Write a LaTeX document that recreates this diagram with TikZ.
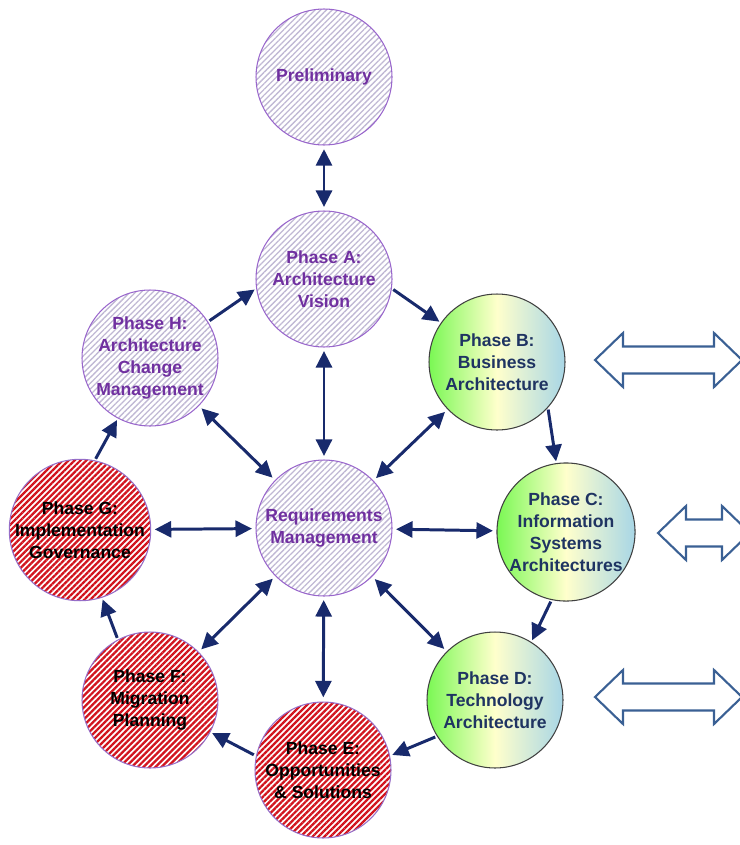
\documentclass[tikz,border=0pt]{standalone}
\usepackage{fontspec}
\setmainfont{Liberation Sans}
\usepackage{tikz}
\usetikzlibrary{arrows.meta,patterns.meta}

\definecolor{lilacline}{RGB}{153,102,204}
\definecolor{lilachatch}{RGB}{192,184,212}
\definecolor{lilactext}{RGB}{112,48,160}
\definecolor{redhatch}{RGB}{210,20,30}
\definecolor{redline}{RGB}{150,110,200}
\definecolor{leafgreen}{RGB}{122,248,84}
\definecolor{paleyellow}{RGB}{255,255,204}
\definecolor{paleblue}{RGB}{168,214,230}
\definecolor{navytext}{RGB}{31,52,98}
\definecolor{navyarrow}{RGB}{24,42,108}
\definecolor{steelblue}{RGB}{58,96,148}

\begin{document}
\begin{tikzpicture}[
  x=0.02cm, y=-0.02cm,
  phase/.style={circle, minimum size=2.72cm, inner sep=0pt, align=center,
    font=\fontsize{10}{12.5}\selectfont\bfseries},
  prep/.style={phase, draw=lilacline, line width=0.6pt, text=lilactext,
    pattern={Lines[angle=45, distance=2.3pt, line width=0.75pt]}, pattern color=lilachatch},
  adm/.style={phase, draw=darkgray, line width=0.6pt, text=navytext,
    left color=leafgreen, right color=paleblue, middle color=paleyellow},
  impl/.style={phase, draw=redline, line width=0.6pt, text=black,
    preaction={fill=white},
    pattern={Lines[angle=45, distance=2.4pt, line width=1.3pt]}, pattern color=redhatch},
  cycle/.style={-{Triangle[length=3.3mm, width=3.2mm]}, line width=1.7pt, navyarrow, shorten <=1pt, shorten >=1pt},
  link/.style={{Triangle[length=3.3mm, width=3.2mm]}-{Triangle[length=3.3mm, width=3.2mm]}, line width=1.7pt, navyarrow, shorten <=2pt, shorten >=2pt},
  interface/.style={draw=steelblue, line width=1.2pt, fill=white, line join=miter}
]
\useasboundingbox (0,0) rectangle (740,845);
\clip (0,0) rectangle (740,845);

\node[prep] (prelim) at (324,77) {Preliminary};
\node[prep] (req) at (324,528) {Requirements\\Management};
\node[prep] (a) at (324,279) {Phase A:\\Architecture\\Vision};
\node[adm] (b) at (497,362) {Phase B:\\Business\\Architecture};
\node[adm] (c) at (566,532) {Phase C:\\Information\\Systems\\Architectures};
\node[adm] (d) at (495,700) {Phase D:\\Technology\\Architecture};
\node[impl] (e) at (323,770) {Phase E:\\Opportunities\\\& Solutions};
\node[impl] (f) at (150,700) {Phase F:\\Migration\\Planning};
\node[impl] (g) at (80,530) {Phase G:\\Implementation\\Governance};
\node[prep] (h) at (150,358) {Phase H:\\Architecture\\Change\\Management};

% outer cycle
\draw[cycle] (a.-8) -- (b.145);
\draw[cycle] (b.-42) -- (c.98);
\draw[cycle] (c.-102) -- (d.58);
\draw[cycle] (d.-148) -- (e.12);
\draw[cycle] (e.168) -- (f.-28);
\draw[cycle] (f.118) -- (g.-72);
\draw[cycle] (g.78) -- (h.-118);
\draw[cycle] (h.32) -- (a.188);

% links to requirements
\draw[link] (prelim) -- (a);
\foreach \p in {a,b,c,d,e,f,g,h}
  \draw[link] (req) -- (\p);

% interfaces on the right
\foreach \yy/\xl/\xr in {360/595/742, 533/658/750, 697/595/742}
  \draw[interface] (\xl,\yy) -- ++(28,-27) -- ++(0,13.5) -- (\xr-28,\yy-13.5)
    -- ++(0,-13.5) -- (\xr,\yy) -- ++(-28,27) -- ++(0,-13.5)
    -- (\xl+28,\yy+13.5) -- ++(0,13.5) -- cycle;
\end{tikzpicture}
\end{document}
